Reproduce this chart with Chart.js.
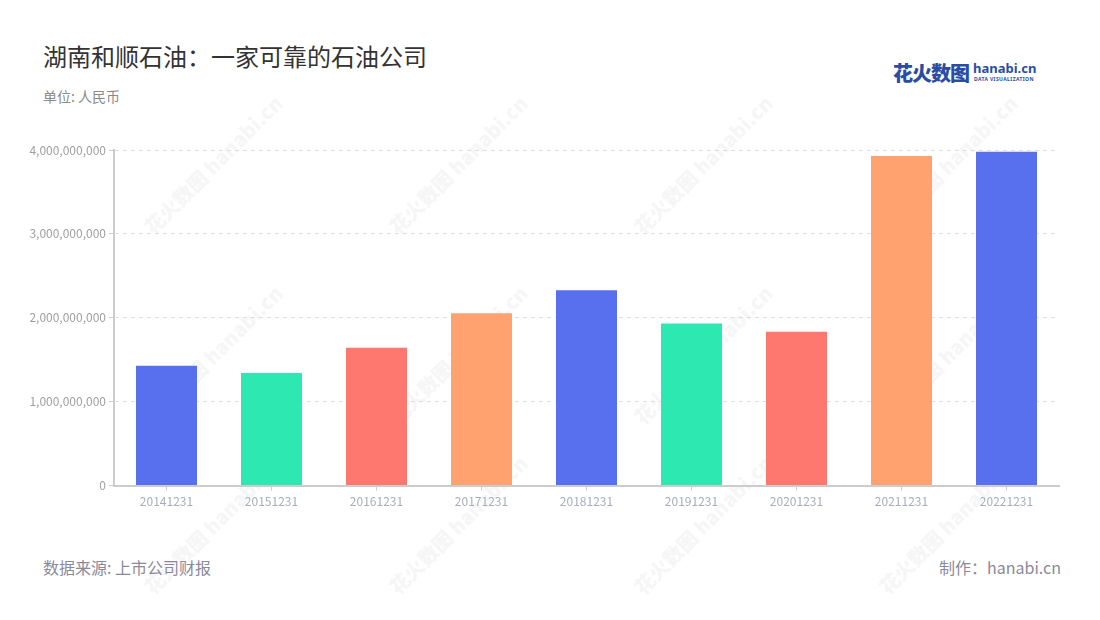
<!DOCTYPE html>
<html>
<head>
<meta charset="utf-8">
<script src="https://cdn.jsdelivr.net/npm/chart.js@4/dist/chart.umd.min.js"></script>
<style>
  body { margin: 0; background: #fff; font-family: "Noto Sans CJK SC", "Noto Sans", sans-serif; }
  #page { position: relative; width: 1100px; height: 620px; overflow: hidden; }
  #title { position: absolute; left: 43px; top: 38px; font-size: 24px; color: #333; }
  #unit { position: absolute; left: 43px; top: 86px; font-size: 14px; color: #8a8a8a; }
  #source { position: absolute; left: 43px; top: 555px; font-size: 16px; color: #8a8a9a; }
  #maker { position: absolute; right: 39px; top: 555px; font-size: 16px; color: #8a8a9a; }
  #logo { position: absolute; left: 893px; top: 58px; height: 26px; }
  #logo .cn { position: absolute; left: 0; top: 0; font-size: 20px; font-weight: 900; color: #2a4da3; letter-spacing: -1px; white-space: nowrap; }
  #logo .en { position: absolute; left: 80px; top: 1px; font-size: 13px; font-weight: 700; color: #2a4da3; white-space: nowrap; font-family: "Noto Sans", sans-serif; }
  #logo .sub { position: absolute; left: 81px; top: 18px; font-size: 5px; font-weight: 700; color: #2a4da3; white-space: nowrap; letter-spacing: 0.4px; font-family: "Noto Sans", sans-serif; }
  .wm { position: absolute; transform: rotate(-45deg); font-size: 20px; font-weight: 900; color: rgba(200,200,200,0.18); white-space: nowrap; pointer-events: none; }
  #chartBox { position: absolute; left: 0; top: 130px; width: 1100px; height: 383px; }
</style>
</head>
<body>
<div id="page">
  <div id="chartBox"><canvas id="myChart"></canvas></div>
  <div id="title">湖南和顺石油：一家可靠的石油公司</div>
  <div id="unit">单位: 人民币</div>
  <div id="logo"><span class="cn">花火数图</span><span class="en">hanabi.cn</span><span class="sub">DATA VISUALIZATION</span></div>
  <div id="source">数据来源: 上市公司财报</div>
  <div id="maker">制作：hanabi.cn</div>
</div>
<script>
const labels = ['20141231', '20151231', '20161231', '20171231', '20181231', '20191231', '20201231', '20211231', '20221231'];
const values = [1441000000, 1353000000, 1656000000, 2066000000, 2340000000, 1943000000, 1847000000, 3940000000, 3990000000];
const barColors = ['#5870ee', '#2ee8b2', '#ff7870', '#ffa270', '#5870ee', '#2ee8b2', '#ff7870', '#ffa270', '#5870ee'];
const yTicks = [0, 1000000000, 2000000000, 3000000000, 4000000000];

// faint diagonal watermarks
const page = document.getElementById('page');
const wmSpots = [[120, 150], [365, 150], [610, 150], [855, 150], [120, 340], [365, 340], [610, 340], [855, 340], [120, 510], [365, 510], [610, 510], [855, 510]];
wmSpots.forEach(function (p) {
    const d = document.createElement('div');
    d.className = 'wm';
    d.textContent = '花火数图 hanabi.cn';
    d.style.left = p[0] + 'px';
    d.style.top = p[1] + 'px';
    page.insertBefore(d, page.firstChild);
});

const ctx = document.getElementById('myChart').getContext('2d');

const data = {
    labels: labels,
    datasets: [{
        data: values,
        backgroundColor: barColors,
        borderColor: 'rgba(255,255,255,0.35)',
        borderWidth: 1,
        barPercentage: 0.6,
        categoryPercentage: 1.0
    }]
};

const config = {
    type: 'bar',
    data: data,
    options: {
        responsive: true,
        maintainAspectRatio: false,
        animation: false,
        layout: { padding: { top: 20, right: 41, bottom: 0, left: 0 } },
        plugins: {
            legend: { display: false },
            tooltip: { enabled: false }
        },
        scales: {
            x: {
                offset: true,
                border: { color: '#cccccc', width: 2 },
                grid: { offset: false, drawOnChartArea: false, drawTicks: true, tickLength: 5, tickColor: '#cccccc' },
                ticks: { color: '#a9adbb', font: { family: 'Noto Sans CJK SC', size: 12 }, padding: 4, maxRotation: 0 }
            },
            y: {
                min: 0,
                max: 4000000000,
                afterFit: function (scale) { scale.width = 114; },
                afterBuildTicks: function (scale) { scale.ticks = yTicks.map(v => ({ value: v })); },
                border: { color: '#cccccc', width: 2, dash: [4, 4] },
                grid: { color: '#dedede', tickBorderDash: [], tickColor: '#cccccc', tickLength: 5 },
                ticks: {
                    color: '#a0a0a0',
                    font: { family: 'Noto Sans CJK SC', size: 12 },
                    padding: 3,
                    callback: function (value) { return value.toLocaleString('en-US'); }
                }
            }
        }
    }
};

const myChart = new Chart(ctx, config);
</script>
</body>
</html>
